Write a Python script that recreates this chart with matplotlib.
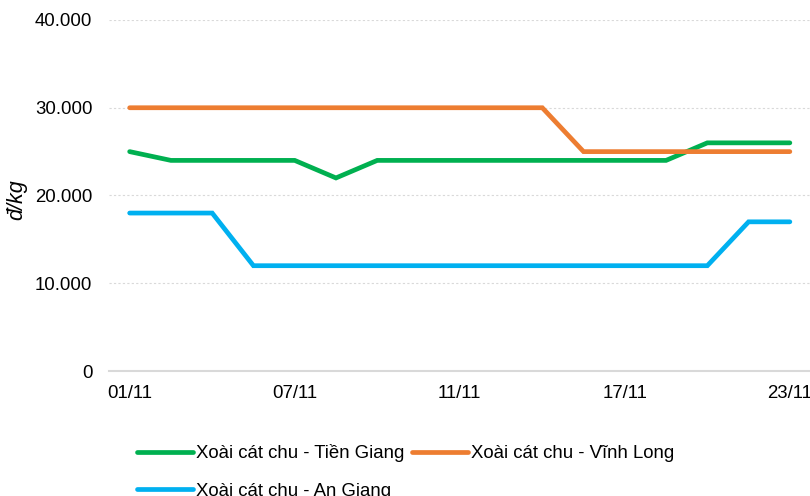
import matplotlib
matplotlib.use("Agg")
import matplotlib.pyplot as plt
from matplotlib.ticker import FuncFormatter

dates = ["01/11", "02/11", "03/11", "06/11", "07/11", "08/11", "09/11", "10/11",
         "11/11", "13/11", "14/11", "16/11", "17/11", "20/11", "21/11", "22/11", "23/11"]
tien_giang = [25000, 24000, 24000, 24000, 24000, 22000, 24000, 24000, 24000,
              24000, 24000, 24000, 24000, 24000, 26000, 26000, 26000]
vinh_long = [30000, 30000, 30000, 30000, 30000, 30000, 30000, 30000, 30000,
             30000, 30000, 25000, 25000, 25000, 25000, 25000, 25000]
an_giang = [18000, 18000, 18000, 12000, 12000, 12000, 12000, 12000, 12000,
            12000, 12000, 12000, 12000, 12000, 12000, 17000, 17000]
series_names = ["Xoài cát chu - Tiền Giang", "Xoài cát chu - Vĩnh Long",
                "Xoài cát chu - An Giang"]
colors = ["#00B050", "#ED7D31", "#00B0F0"]
shown_ticks = [0, 4, 8, 12, 16]

plt.rcParams["font.family"] = ["Liberation Sans", "DejaVu Sans"]

fig = plt.figure(figsize=(8.10, 4.96), dpi=100)
ax = fig.add_axes([0.1346, 0.252, 0.8660, 0.7077])

x = list(range(len(dates)))
handles = []
for vals, name, c in zip([tien_giang, vinh_long, an_giang], series_names, colors):
    h, = ax.plot(x, vals, color=c, lw=3.4, solid_capstyle="round",
                 solid_joinstyle="miter", label=name, clip_on=False)
    handles.append(h)

ax.set_xlim(-0.5, len(dates) - 0.5)
ax.set_ylim(0, 40000)
ax.set_yticks([0, 10000, 20000, 30000, 40000])
ax.yaxis.set_major_formatter(FuncFormatter(lambda v, p: f"{int(v):,}".replace(",", ".")))
ax.set_xticks(shown_ticks)
ax.set_xticklabels([dates[i] for i in shown_ticks])

ax.grid(axis="y", color="#D9D9D9", linestyle=(0, (2, 2)), linewidth=0.8)
ax.set_axisbelow(True)
for s in ["top", "right", "left"]:
    ax.spines[s].set_visible(False)
ax.spines["bottom"].set_color("#D9D9D9")
ax.spines["bottom"].set_linewidth(1.5)
ax.tick_params(axis="both", length=0, labelsize=13.4, colors="#000000")
ax.tick_params(axis="y", pad=12)
ax.tick_params(axis="x", pad=10)

fig.text(0.021, 0.597, "đ/kg", rotation=90, style="italic", fontsize=15.5,
         ha="center", va="center")

# row-wise order: Tiền Giang, Vĩnh Long on the first row, An Giang below
order = [0, 2, 1]
fig.legend(handles=[handles[i] for i in order],
           labels=[series_names[i] for i in order], loc="upper left",
           bbox_to_anchor=(0.169, 0.104), ncol=2, frameon=False, fontsize=13.4,
           handlelength=3.0, handletextpad=0.2, columnspacing=0.38,
           labelspacing=1.09, borderaxespad=0, borderpad=0)

fig.savefig("out.png", dpi=100)
